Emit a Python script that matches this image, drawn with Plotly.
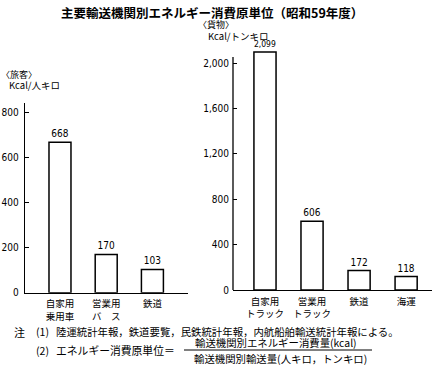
import plotly.graph_objects as go

W, H = 443, 375

title = "主要輸送機関別エネルギー消費原単位（昭和59年度）"

pass_categories = ["自家用<br>乗用車", "営業用<br>バ　ス", "鉄道"]
pass_values = [668, 170, 103]
pass_ticks = [0, 200, 400, 600, 800]

frt_categories = ["自家用<br>トラック", "営業用<br>トラック", "鉄道", "海運"]
frt_values = [2099, 606, 172, 118]
frt_ticks = [0, 400, 800, 1200, 1600, 2000]

JP = "Noto Sans CJK JP"
NUM = "Liberation Sans Narrow, DejaVu Sans Condensed, Liberation Sans, sans-serif"

def px(x):
    return x / W

def py(y):
    return (H - y) / H

fig = go.Figure()

bar_style = dict(marker=dict(color="white", line=dict(color="black", width=1.5)),
                 textposition="outside", cliponaxis=False,
                 textfont=dict(family=NUM, size=10, color="black"),
                 texttemplate="%{y:,}", showlegend=False, hoverinfo="skip")

fig.add_trace(go.Bar(x=pass_categories, y=pass_values, width=0.476,
                     xaxis="x", yaxis="y", **bar_style))
fig.add_trace(go.Bar(x=frt_categories, y=frt_values, width=0.47,
                     xaxis="x2", yaxis="y2", **bar_style))

axis_common = dict(showgrid=False, zeroline=False, color="black", automargin=False)

fig.update_layout(
    template="none",
    width=W, height=H,
    margin=dict(l=0, r=0, t=0, b=0, pad=0),
    paper_bgcolor="white", plot_bgcolor="white",
    font=dict(family=JP, color="black"),
    xaxis=dict(domain=[px(25), px(188)], range=[-0.757, 2.77], type="category",
               anchor="y", showline=True, linecolor="black", linewidth=1.3,
               ticks="", tickfont=dict(family=JP, size=9.5), ticklabelstandoff=2,
               **axis_common),
    yaxis=dict(domain=[py(292.7), py(103)], range=[0, 842], anchor="x",
               tickvals=pass_ticks, tickformat=",", ticks="inside", ticklen=4,
               tickcolor="black", showline=True, linecolor="black", linewidth=1.3,
               tickfont=dict(family=NUM, size=10), ticklabelstandoff=3,
               **axis_common),
    xaxis2=dict(domain=[px(233), px(432)], range=[-0.68, 3.55], type="category",
                anchor="y2", showline=True, linecolor="black", linewidth=1.3,
                ticks="", tickfont=dict(family=JP, size=9.5), ticklabelstandoff=2,
                **axis_common),
    yaxis2=dict(domain=[py(290), py(48)], range=[0, 2135], anchor="x2",
                tickvals=frt_ticks, tickformat=",", ticks="inside", ticklen=4,
                tickcolor="black", showline=False,
                tickfont=dict(family=NUM, size=10), ticklabelstandoff=3,
                **axis_common),
)

# vertical axis line of the freight chart (stops just above 2,000)
fig.add_shape(type="line", xref="paper", yref="y2", x0=px(233), x1=px(233),
              y0=0, y1=2055, line=dict(color="black", width=1.3))

def ann(text, x, y, size, xanchor="left", bold=False, family=JP):
    fig.add_annotation(text=f"<b>{text}</b>" if bold else text,
                       x=px(x), y=py(y), xref="paper", yref="paper",
                       xanchor=xanchor, yanchor="middle", showarrow=False,
                       font=dict(family=family, size=size, color="black"))

ann(title, 212, 12.5, 12.5, xanchor="center", bold=True)
ann("〈貨物〉", 196, 25, 9)
ann("Kcal/トンキロ", 206, 35.5, 9.5)
ann("〈旅客〉", -1, 74, 9)
ann("Kcal/人キロ", 7, 85.5, 9.5)

ann("注", 12, 331.7, 11)
ann("(1)", 34, 331.7, 10.5)
ann("陸運統計年報，鉄道要覧，民鉄統計年報，内航船舶輸送統計年報による。", 54, 331.7, 10.4)
ann("(2)", 34, 350, 10.5)
ann("エネルギー消費原単位＝", 54, 350, 10.8)
ann("輸送機関別エネルギー消費量(kcal)", 276, 342.5, 10.4, xanchor="center")
ann("輸送機関別輸送量(人キロ，トンキロ)", 280, 358, 10.4, xanchor="center")
fig.add_shape(type="line", xref="paper", yref="paper", x0=px(184), x1=px(372),
              y0=py(350), y1=py(350), line=dict(color="black", width=1))

fig.write_html("out.html", config={"displayModeBar": False, "staticPlot": True},
               post_script="document.body.style.margin='0';document.body.style.overflow='hidden';")
